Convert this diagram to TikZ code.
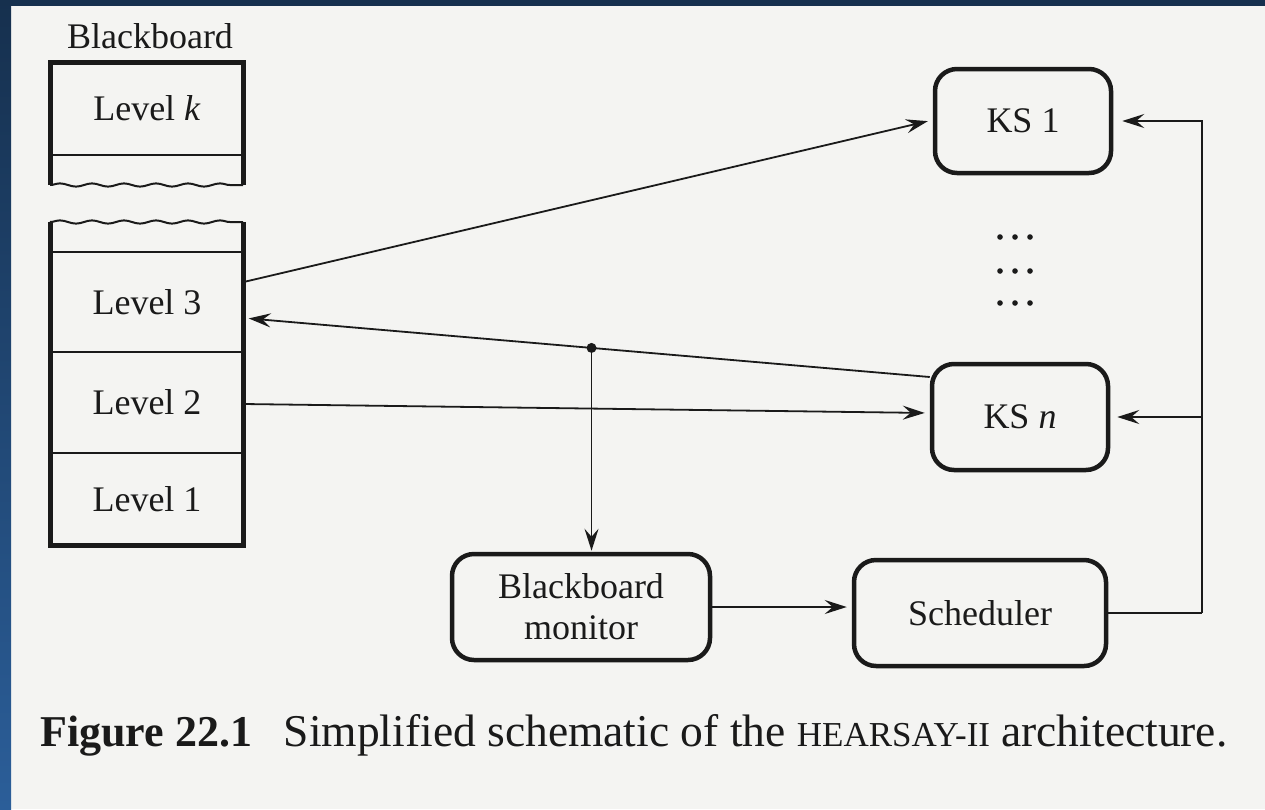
\documentclass[tikz,border=0pt]{standalone}
\usepackage{fontspec}
\setmainfont{Liberation Serif}
\usetikzlibrary{arrows.meta,calc,decorations.pathmorphing}
\definecolor{page}{HTML}{F4F4F2}
\definecolor{ink}{HTML}{1A1A1A}
\definecolor{navy}{HTML}{16304E}
\definecolor{slate}{HTML}{2B5E99}
\tikzset{
  ks/.style={draw=ink, line width=4.5pt, rounded corners=22pt, minimum width=176pt,
    minimum height=104pt, align=center, text=ink, font=\fontsize{36}{41}\selectfont},
  lvl/.style={minimum width=193pt, minimum height=100pt, inner sep=0pt, text=ink,
    font=\fontsize{36}{41}\selectfont},
  link/.style={draw=ink, line width=1.8pt, -{Stealth[length=22pt,width=14pt,inset=8pt]},
    shorten >=5pt},
  wire/.style={draw=ink, line width=1.8pt},
  wavy/.style={draw=ink, line width=2pt, decorate,
    decoration={snake, amplitude=1.6pt, segment length=32pt}},
}
\begin{document}
\begin{tikzpicture}[x=1pt,y=-1pt]
  \fill[page] (0,0) rectangle (1265,809);
  \shade[top color=navy, bottom color=slate] (0,0) rectangle (11,809);
  \fill[navy] (0,0) rectangle (1265,6);
  \useasboundingbox (0,0) rectangle (1265,809);

  \node[text=ink, font=\fontsize{36}{41}\selectfont] (bb) at (150,36) {Blackboard};
  \node[lvl] (lk) at (147,108) {Level \textit{k}};
  \node[lvl] (l3) at (147,302) {Level 3};
  \node[lvl] (l2) at (147,402) {Level 2};
  \node[lvl] (l1) at (147,499) {Level 1};

  \draw[ink, line width=5pt] (50,185) -- (50,62) -- (243,62) -- (243,185);
  \draw[ink, line width=2.5pt] (50,155) -- (243,155);
  \draw[wavy] (50,185) -- (243,185);
  \draw[wavy] (50,222) -- (243,222);
  \draw[ink, line width=5pt] (50,222) -- (50,545) -- (243,545) -- (243,222);
  \draw[ink, line width=2.5pt] (50,252) -- (243,252) (50,352) -- (243,352) (50,453) -- (243,453);

  \node[ks] (ks1) at (1023,121) {KS 1};
  \node[ks, minimum height=106pt] (ksn) at (1020,417) {KS \textit{n}};
  \node[ks, minimum width=252pt, minimum height=106pt] (sched) at (980,613) {Scheduler};
  \node[ks, minimum width=258pt, minimum height=106pt] (bbm) at (581,607) {Blackboard\\monitor};

  \foreach \y in {237,271,303}
    \foreach \x in {1000,1015,1030}
      \fill[ink] (\x,\y) circle (2.8pt);

  \draw[link] ([yshift=20pt]l3.east) -- ([yshift=1pt]ks1.west);
  \draw[link] ([yshift=40pt]ksn.west) -- ([yshift=-16pt]l3.east);
  \coordinate (tap) at ($([yshift=40pt]ksn.west)!0.493!([yshift=-16pt]l3.east)$);
  \fill[ink] (tap) circle (5pt);
  \draw[link, shorten >=1pt] (tap) -- (tap |- bbm.north);
  \draw[link] ([yshift=-2pt]l2.east) -- ([yshift=4pt]ksn.west);
  \draw[link] (bbm.east) -- (bbm.east -| sched.west);

  \coordinate (bus) at ($(sched.east)+(94,0)$);
  \draw[wire] (sched.east) -- (bus);
  \draw[link, shorten >=9pt] (bus) |- (ks1.east);
  \draw[link, shorten >=7pt] (bus |- ksn.east) -- (ksn.east);

  \node[anchor=base west, inner sep=0pt, text=ink, font=\fontsize{45.5}{50}\selectfont] (cap) at (40,746)
    {{\fontsize{44}{50}\selectfont\textbf{Figure 22.1}}\hspace{0.7em}Simplified schematic of the {\fontsize{35}{40}\selectfont HEARSAY-II} architecture.};
\end{tikzpicture}
\end{document}
